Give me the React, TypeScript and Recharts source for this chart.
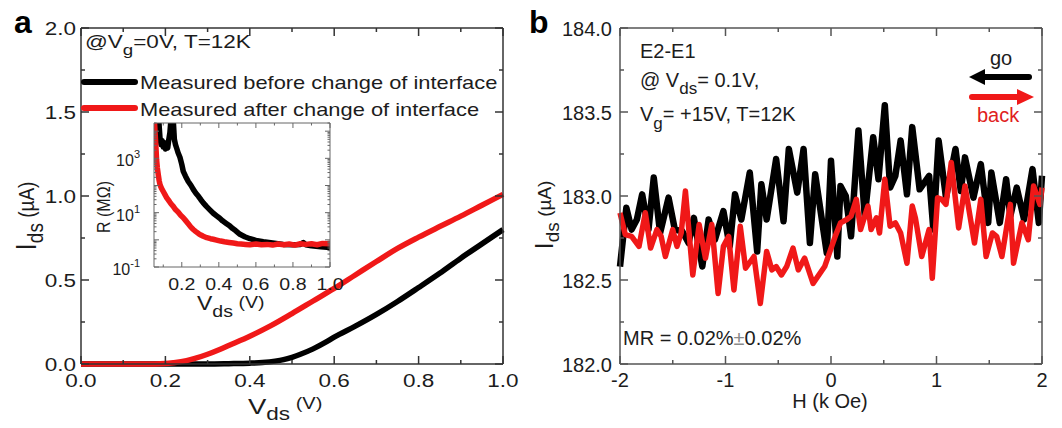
import React from 'react';
import { LineChart, Line, XAxis, YAxis } from 'recharts';

const FONT = '"Liberation Sans", Arial, Helvetica, sans-serif';
const RED = '#f01818';
const BLACK = '#000000';
const TXT = '#1c1c1c';
const SX = 1.25;

// ---------- Panel a : main I-V curves ----------
const A_V_BEFORE = [0, 0.1, 0.2, 0.3, 0.35, 0.4, 0.43, 0.46, 0.48, 0.5, 0.52, 0.55, 0.58, 0.6, 0.65, 0.7, 0.75, 0.8, 0.85, 0.9, 0.95, 1.0];
const A_I_BEFORE = [0, 0, 0, 0, 0.002, 0.005, 0.009, 0.017, 0.026, 0.04, 0.058, 0.09, 0.13, 0.16, 0.225, 0.295, 0.372, 0.455, 0.54, 0.63, 0.715, 0.8];
const A_V_AFTER = [0, 0.1, 0.15, 0.2, 0.22, 0.25, 0.27, 0.3, 0.33, 0.35, 0.4, 0.45, 0.5, 0.55, 0.6, 0.65, 0.7, 0.75, 0.8, 0.85, 0.9, 0.95, 1.0];
const A_I_AFTER = [0, 0, 0, 0.003, 0.008, 0.02, 0.033, 0.058, 0.088, 0.11, 0.165, 0.228, 0.3, 0.375, 0.45, 0.53, 0.61, 0.688, 0.755, 0.818, 0.88, 0.945, 1.01];
const A_X_TICKS = [0, 0.1, 0.2, 0.3, 0.4, 0.5, 0.6, 0.7, 0.8, 0.9, 1.0];
const A_Y_TICKS = [0, 0.25, 0.5, 0.75, 1.0, 1.25, 1.5, 1.75, 2.0];

// ---------- Panel a inset : R (MOhm) vs Vds, log scale ----------
const IN_V_BEFORE = [0.075, 0.082, 0.088, 0.094, 0.1, 0.106, 0.112, 0.118, 0.124, 0.13, 0.136, 0.142, 0.148, 0.154, 0.16, 0.166, 0.172, 0.18, 0.19, 0.2, 0.208, 0.22, 0.235, 0.25, 0.262, 0.276, 0.29, 0.303, 0.316, 0.333, 0.35, 0.37, 0.388, 0.405, 0.42, 0.44, 0.46, 0.475, 0.49, 0.514, 0.54, 0.568, 0.6, 0.64, 0.7, 0.748, 0.8, 0.84, 0.856, 0.87, 0.9, 0.95, 1.0];
const IN_R_BEFORE = [30000, 6000, 3200, 4500, 2600, 3800, 2200, 3000, 2400, 5000, 9000, 30000, 12000, 25000, 5000, 3200, 2400, 1600, 1100, 600, 330, 220, 140, 100, 72, 52, 40, 30, 23, 17, 13, 9.5, 7.6, 6.2, 5, 4, 3.2, 2.6, 2.2, 1.6, 1.3, 1.1, 0.95, 0.85, 0.75, 0.68, 0.66, 0.68, 0.8, 0.66, 0.6, 0.56, 0.52];
const IN_V_AFTER = [0.05, 0.054, 0.058, 0.061, 0.064, 0.068, 0.073, 0.078, 0.082, 0.09, 0.1, 0.11, 0.118, 0.128, 0.136, 0.145, 0.154, 0.166, 0.18, 0.194, 0.208, 0.22, 0.235, 0.248, 0.262, 0.276, 0.29, 0.303, 0.316, 0.335, 0.355, 0.37, 0.388, 0.41, 0.43, 0.455, 0.478, 0.5, 0.52, 0.545, 0.568, 0.6, 0.63, 0.66, 0.69, 0.72, 0.75, 0.78, 0.81, 0.84, 0.87, 0.9, 0.93, 0.96, 1.0];
const IN_R_AFTER = [40000, 15000, 5000, 2200, 900, 450, 250, 150, 110, 80, 60, 45, 36, 29, 24, 20, 17, 13, 10.5, 8, 6.5, 5.2, 3.9, 3.0, 2.4, 2.0, 1.7, 1.5, 1.35, 1.2, 1.1, 1.05, 0.98, 0.9, 0.85, 0.8, 0.76, 0.72, 0.7, 0.68, 0.66, 0.7, 0.66, 0.68, 0.64, 0.7, 0.66, 0.7, 0.64, 0.72, 0.68, 0.72, 0.66, 0.74, 0.72];
const IN_X_TICKS = [0.1, 0.2, 0.3, 0.4, 0.5, 0.6, 0.7, 0.8, 0.9, 1.0];
const IN_Y_DECADES = [0.1, 1, 10, 100, 1000, 10000];
const IN_Y_LABELED = [0.1, 10, 1000];
const IN_Y_EXP_LABELS = ['-1', '1', '3'];

// ---------- Panel b : Ids vs H ----------
const B_H_GO = [-2.0, -1.94, -1.89, -1.84, -1.79, -1.73, -1.68, -1.62, -1.54, -1.48, -1.41, -1.35, -1.3, -1.22, -1.16, -1.1, -1.02, -0.96, -0.91, -0.85, -0.77, -0.7, -0.66, -0.61, -0.52, -0.45, -0.4, -0.32, -0.26, -0.2, -0.15, -0.04, 0.0, 0.06, 0.09, 0.14, 0.19, 0.26, 0.32, 0.4, 0.45, 0.51, 0.56, 0.61, 0.66, 0.72, 0.77, 0.84, 0.93, 0.97, 1.02, 1.09, 1.18, 1.23, 1.27, 1.35, 1.42, 1.49, 1.52, 1.6, 1.66, 1.7, 1.76, 1.83, 1.91, 1.97, 2.0];
const B_I_GO = [182.58, 182.93, 182.8, 182.86, 183.01, 182.8, 183.11, 182.78, 182.99, 182.8, 182.79, 182.72, 182.87, 182.58, 182.86, 182.74, 182.91, 182.7, 183.01, 182.86, 183.14, 182.67, 183.07, 182.86, 183.22, 182.85, 183.28, 183.02, 183.28, 182.72, 183.13, 182.66, 183.21, 182.64, 183.06, 183.0, 182.76, 183.39, 182.88, 183.35, 183.1, 183.54, 183.05, 183.12, 183.33, 183.01, 183.41, 183.04, 183.12, 182.8, 183.33, 182.99, 183.28, 183.03, 183.23, 182.99, 183.19, 182.84, 183.14, 182.84, 183.1, 182.88, 183.05, 182.86, 183.16, 182.84, 183.12];
const B_H_BACK = [-2.0, -1.95, -1.89, -1.82, -1.76, -1.71, -1.65, -1.61, -1.57, -1.5, -1.46, -1.42, -1.38, -1.31, -1.25, -1.19, -1.13, -1.07, -1.02, -0.97, -0.92, -0.86, -0.81, -0.73, -0.67, -0.61, -0.56, -0.52, -0.47, -0.42, -0.36, -0.31, -0.25, -0.17, -0.06, 0.04, 0.09, 0.15, 0.19, 0.24, 0.28, 0.35, 0.38, 0.43, 0.46, 0.51, 0.56, 0.61, 0.66, 0.72, 0.77, 0.8, 0.86, 0.93, 0.96, 1.01, 1.05, 1.09, 1.14, 1.21, 1.27, 1.36, 1.42, 1.47, 1.53, 1.57, 1.62, 1.7, 1.73, 1.81, 1.87, 1.92, 1.98, 2.0];
const B_I_BACK = [182.9, 182.77, 182.76, 182.7, 182.9, 182.69, 182.8, 182.76, 182.64, 182.8, 182.7, 182.78, 183.03, 182.53, 182.83, 182.63, 182.83, 182.42, 182.7, 182.76, 182.44, 182.82, 182.57, 182.64, 182.36, 182.67, 182.56, 182.58, 182.53, 182.58, 182.69, 182.56, 182.63, 182.48, 182.58, 182.76, 182.84, 182.86, 182.88, 182.98, 182.8, 182.94, 182.8, 182.87, 182.78, 183.1, 182.82, 182.84, 182.78, 182.6, 182.94, 182.87, 182.64, 182.8, 182.51, 182.99, 182.98, 182.95, 183.2, 182.81, 183.06, 182.72, 182.98, 182.64, 182.78, 182.76, 182.64, 182.95, 182.6, 182.84, 182.74, 183.06, 182.95, 183.05];
const B_X_TICKS = [-2, -1.5, -1, -0.5, 0, 0.5, 1, 1.5, 2];
const B_Y_TICKS = [182.0, 182.25, 182.5, 182.75, 183.0, 183.25, 183.5, 183.75, 184.0];

const toPts = (xs: number[], ys: number[]) => xs.map((x, i) => ({ x, y: ys[i] }));

const isMult = (step: number) => (v: number) => Math.abs(v / step - Math.round(v / step)) < 1e-6;
const isDecade = (v: number) => Math.abs(Math.log10(v) - Math.round(Math.log10(v))) < 1e-6;

type Side = 'left' | 'right' | 'top' | 'bottom';
function mkTick(
  side: Side,
  edge: number,
  isMajor: (v: number) => boolean,
  majLen: number,
  minLen: number,
  color: string,
  sw: number,
  label?: (v: number, c: number) => React.ReactNode
) {
  return (p: any) => {
    const v = Number(p.payload?.value);
    const c = side === 'left' || side === 'right' ? Number(p.y) : Number(p.x);
    const major = isMajor(v);
    const len = major ? majLen : minLen;
    let x1 = 0, y1 = 0, x2 = 0, y2 = 0;
    if (side === 'left') { x1 = edge; x2 = edge + len; y1 = c; y2 = c; }
    else if (side === 'right') { x1 = edge; x2 = edge - len; y1 = c; y2 = c; }
    else if (side === 'bottom') { y1 = edge; y2 = edge - len; x1 = c; x2 = c; }
    else { y1 = edge; y2 = edge + len; x1 = c; x2 = c; }
    return (
      <g>
        <line x1={x1} y1={y1} x2={x2} y2={y2} stroke={color} strokeWidth={sw} />
        {major && label ? label(v, c) : null}
      </g>
    );
  };
}

type Box = { left: number; right: number; top: number; bottom: number };
function frameAxes(o: {
  box: Box; xDomain: number[]; yDomain: number[]; xTicks: number[]; yTicks: number[];
  xMajor: (v: number) => boolean; yMajor: (v: number) => boolean; color: string; sw: number;
  majLen: number; minLen: number; xLabel?: (v: number, c: number) => React.ReactNode;
  yLabel?: (v: number, c: number) => React.ReactNode; yLog?: boolean; clip?: boolean;
}) {
  const axisLine = { stroke: o.color, strokeWidth: o.sw };
  const yScale = o.yLog ? 'log' : 'auto';
  return [
    <XAxis key="xb" xAxisId="b" dataKey="x" type="number" domain={o.xDomain} ticks={o.xTicks} interval={0}
      height={1} tickLine={false} axisLine={axisLine} allowDataOverflow={!!o.clip}
      tick={mkTick('bottom', o.box.bottom, o.xMajor, o.majLen, o.minLen, o.color, o.sw, o.xLabel)} />,
    <XAxis key="xt" xAxisId="t" orientation="top" dataKey="x" type="number" domain={o.xDomain} ticks={o.xTicks}
      interval={0} height={1} tickLine={false} axisLine={axisLine} allowDataOverflow
      tick={mkTick('top', o.box.top, o.xMajor, o.majLen, o.minLen, o.color, o.sw)} />,
    <YAxis key="yl" yAxisId="l" type="number" scale={yScale as any} domain={o.yDomain} ticks={o.yTicks} interval={0}
      width={1} tickLine={false} axisLine={axisLine} allowDataOverflow={!!o.clip}
      tick={mkTick('left', o.box.left, o.yMajor, o.majLen, o.minLen, o.color, o.sw, o.yLabel)} />,
    <YAxis key="yr" yAxisId="r" orientation="right" type="number" scale={yScale as any} domain={o.yDomain}
      ticks={o.yTicks} interval={0} width={1} tickLine={false} axisLine={axisLine} allowDataOverflow
      tick={mkTick('right', o.box.right, o.yMajor, o.majLen, o.minLen, o.color, o.sw)} />,
  ];
}

const marginFor = (b: Box, w: number, h: number) => ({
  top: b.top - 1,
  left: b.left - 1,
  right: w - b.right - 1,
  bottom: h - b.bottom - 1,
});

const stretch = (x: number, y: number, s = SX) => `translate(${x},${y}) scale(${s},1)`;

// minor log ticks for inset
const IN_Y_TICKS: number[] = [];
IN_Y_DECADES.forEach((d) => {
  [1, 2, 3, 4, 5, 6, 7, 8, 9].forEach((m) => {
    const t = d * m;
    if (t >= 0.1 && t <= 20000) IN_Y_TICKS.push(Number(t.toPrecision(6)));
  });
});

export default function App() {
  const boxA: Box = { left: 81, right: 503, top: 28, bottom: 364 };
  const boxIn: Box = { left: 154, right: 330, top: 123, bottom: 267 };
  const boxB: Box = { left: 90, right: 512, top: 28, bottom: 364 };

  const aBefore = toPts(A_V_BEFORE, A_I_BEFORE);
  const aAfter = toPts(A_V_AFTER, A_I_AFTER);
  const inBefore = toPts(IN_V_BEFORE, IN_R_BEFORE);
  const inAfter = toPts(IN_V_AFTER, IN_R_AFTER);
  const bGo = toPts(B_H_GO, B_I_GO);
  const bBack = toPts(B_H_BACK, B_I_BACK);

  const txt = { fontFamily: FONT, fill: TXT } as const;

  return (
    <div style={{ position: 'absolute', left: 0, top: 0, width: 1062, height: 428, background: '#fff', fontFamily: FONT }}>
      {/* Panel a main */}
      <div style={{ position: 'absolute', left: 0, top: 0 }}>
        <LineChart width={530} height={428} margin={marginFor(boxA, 530, 428)}>
          {frameAxes({
            box: boxA, xDomain: [0, 1], yDomain: [0, 2], xTicks: A_X_TICKS, yTicks: A_Y_TICKS,
            xMajor: isMult(0.2), yMajor: isMult(0.5), color: '#333', sw: 1.5, majLen: 8, minLen: 4,
            xLabel: (v, c) => (
              <text transform={stretch(c, 387)} textAnchor="middle" fontSize={18} {...txt}>{v.toFixed(1)}</text>
            ),
            yLabel: (v, c) => (
              <text transform={stretch(76, c + 7)} textAnchor="end" fontSize={18} {...txt}>{v.toFixed(1)}</text>
            ),
          })}
          <Line data={aBefore} dataKey="y" xAxisId="b" yAxisId="l" type="monotone" dot={false}
            stroke={BLACK} strokeWidth={5.5} isAnimationActive={false} />
          <Line data={aAfter} dataKey="y" xAxisId="b" yAxisId="l" type="monotone" dot={false}
            stroke={RED} strokeWidth={5.5} isAnimationActive={false} />
        </LineChart>
      </div>

      {/* Panel a inset */}
      <div style={{ position: 'absolute', left: 0, top: 0 }}>
        <LineChart width={530} height={428} margin={marginFor(boxIn, 530, 428)}>
          {frameAxes({
            box: boxIn, xDomain: [0.05, 1.0], yDomain: [0.1, 20000], xTicks: IN_X_TICKS, yTicks: IN_Y_TICKS,
            xMajor: isMult(0.2), yMajor: isDecade, color: '#666', sw: 1, majLen: 5, minLen: 2.5,
            yLog: true, clip: true,
            xLabel: (v, c) => (
              <text transform={stretch(c, 290, 1.15)} textAnchor="middle" fontSize={17} {...txt}>{v.toFixed(1)}</text>
            ),
            yLabel: (v, c) => {
              const idx = IN_Y_LABELED.findIndex((t) => Math.abs(Math.log10(t) - Math.log10(v)) < 1e-6);
              if (idx < 0) return null;
              return (
                <text x={140} y={c + 8} textAnchor="end" fontSize={16} {...txt}>
                  10<tspan dy={-8} fontSize={11}>{IN_Y_EXP_LABELS[idx]}</tspan>
                </text>
              );
            },
          })}
          <Line data={inBefore} dataKey="y" xAxisId="b" yAxisId="l" type="linear" dot={false}
            stroke={BLACK} strokeWidth={5.5} strokeLinejoin="round" isAnimationActive={false} />
          <Line data={inAfter} dataKey="y" xAxisId="b" yAxisId="l" type="linear" dot={false}
            stroke={RED} strokeWidth={5.5} strokeLinejoin="round" isAnimationActive={false} />
        </LineChart>
      </div>

      {/* Panel b */}
      <div style={{ position: 'absolute', left: 530, top: 0 }}>
        <LineChart width={532} height={428} margin={marginFor(boxB, 532, 428)}>
          {frameAxes({
            box: boxB, xDomain: [-2, 2], yDomain: [182, 184], xTicks: B_X_TICKS, yTicks: B_Y_TICKS,
            xMajor: isMult(1), yMajor: isMult(0.5), color: '#555', sw: 1.5, majLen: 8, minLen: 4,
            xLabel: (v, c) => (
              <text x={c} y={387} textAnchor="middle" fontSize={20} {...txt}>{String(v)}</text>
            ),
            yLabel: (v, c) => (
              <text x={82} y={c + 8} textAnchor="end" fontSize={20} {...txt}>{v.toFixed(1)}</text>
            ),
          })}
          <Line data={bGo} dataKey="y" xAxisId="b" yAxisId="l" type="linear" dot={false}
            stroke={BLACK} strokeWidth={6.5} strokeLinejoin="round" isAnimationActive={false} />
          <Line data={bBack} dataKey="y" xAxisId="b" yAxisId="l" type="linear" dot={false}
            stroke={RED} strokeWidth={5.5} strokeLinejoin="round" isAnimationActive={false} />
        </LineChart>
      </div>

      {/* Annotations */}
      <svg width={1062} height={428} style={{ position: 'absolute', left: 0, top: 0, pointerEvents: 'none' }}>
        <text x={14} y={33} fontSize={32} fontWeight="bold" {...txt} fill="#000">a</text>
        <text x={529} y={33} fontSize={32} fontWeight="bold" {...txt} fill="#000">b</text>

        <text transform={stretch(85, 48)} fontSize={18} {...txt}>
          @V<tspan dy={7} fontSize={15}>g</tspan><tspan dy={-7}>=0V, T=12K</tspan>
        </text>
        <line x1={84} y1={82} x2={135} y2={82} stroke={BLACK} strokeWidth={6} strokeLinecap="round" />
        <text transform={stretch(140, 89)} fontSize={17.5} {...txt}>Measured before change of interface</text>
        <line x1={84} y1={108} x2={135} y2={108} stroke={RED} strokeWidth={6} strokeLinecap="round" />
        <text transform={stretch(140, 116)} fontSize={17.5} {...txt}>Measured after change of interface</text>

        <text transform={stretch(248, 414)} fontSize={22} {...txt}>
          V<tspan dy={6} fontSize={18}>ds</tspan><tspan dy={-11} fontSize={16}> (V)</tspan>
        </text>
        <text transform="translate(36,216) rotate(-90) scale(1,1.15)" textAnchor="middle" fontSize={26} {...txt}>
          I<tspan dy={6} fontSize={19}>ds</tspan><tspan dy={-8} fontSize={19}> (µA)</tspan>
        </text>

        <text transform={stretch(197, 310, 1.15)} fontSize={20} {...txt}>
          V<tspan dy={7} fontSize={17}>ds</tspan><tspan dy={-9} fontSize={17}> (V)</tspan>
        </text>
        <text transform="translate(110,207) rotate(-90) scale(1,1.2)" textAnchor="middle" fontSize={16} {...txt}>R (MΩ)</text>

        <text x={640} y={58} fontSize={20} {...txt}>E2-E1</text>
        <text x={640} y={87} fontSize={20} {...txt}>
          @ V<tspan dy={7} fontSize={17}>ds</tspan><tspan dy={-7}>= 0.1V,</tspan>
        </text>
        <text x={640} y={121} fontSize={20} {...txt}>
          V<tspan dy={8} fontSize={17}>g</tspan><tspan dy={-8}>= +15V, T=12K</tspan>
        </text>
        <text x={623} y={345} fontSize={20} {...txt}>
          MR = 0.02%<tspan fill="#8a8a8a">±</tspan>0.02%
        </text>

        <text x={990} y={65} fontSize={20} {...txt}>go</text>
        <line x1={982} y1={77} x2={1029} y2={77} stroke={BLACK} strokeWidth={6} strokeLinecap="round" />
        <polygon points="969,77 985,69 985,85" fill={BLACK} />
        <line x1={972} y1={97} x2={1020} y2={97} stroke={RED} strokeWidth={6} strokeLinecap="round" />
        <polygon points="1034,97 1017,89 1017,105" fill={RED} />
        <text x={977} y={122} fontSize={20} {...txt} fill="#e02020">back</text>

        <text x={830} y={408} textAnchor="middle" fontSize={20} {...txt}>H (k Oe)</text>
        <text transform="translate(553,215) rotate(-90)" textAnchor="middle" fontSize={26} {...txt}>
          I<tspan dy={6} fontSize={19}>ds</tspan><tspan dy={-8} fontSize={19}> (µA)</tspan>
        </text>
      </svg>
    </div>
  );
}
